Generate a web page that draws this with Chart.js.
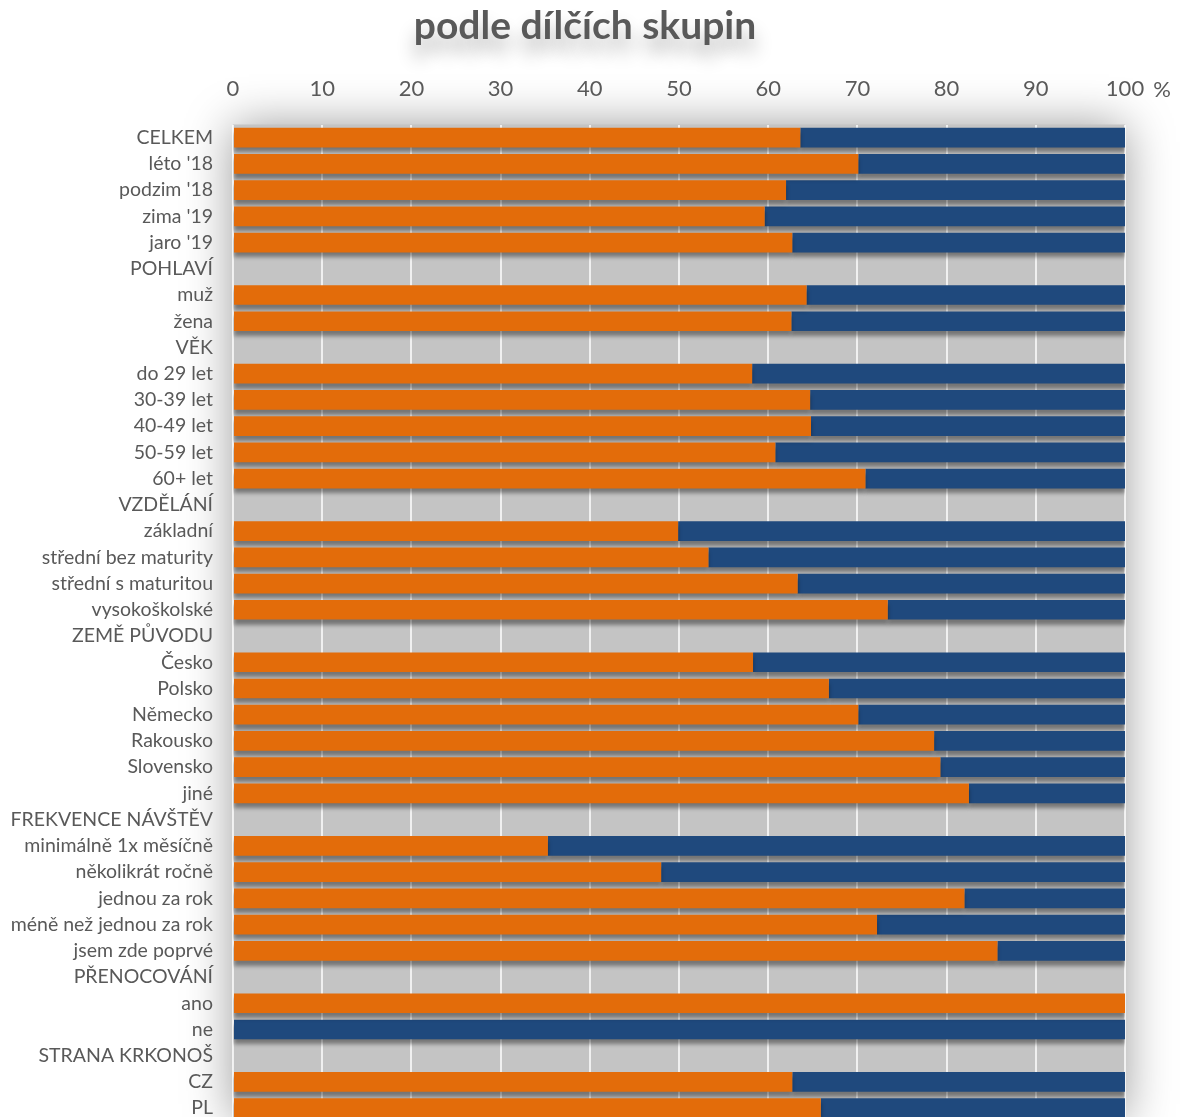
<!DOCTYPE html>
<html>
<head>
<meta charset="utf-8">
<script src="https://cdn.jsdelivr.net/npm/chart.js@4/dist/chart.umd.min.js"></script>
<style>
  html, body { margin: 0; padding: 0; background: #fff; overflow: hidden; }
  canvas { display: block; }
</style>
</head>
<body>
<canvas id="barChart" width="1182" height="1153"></canvas>
<script>
// categories (section headings have no bars)
var categories = [
  "CELKEM", "léto '18", "podzim '18", "zima '19", "jaro '19",
  "POHLAVÍ", "muž", "žena",
  "VĚK", "do 29 let", "30-39 let", "40-49 let", "50-59 let", "60+ let",
  "VZDĚLÁNÍ", "základní", "střední bez maturity", "střední s maturitou", "vysokoškolské",
  "ZEMĚ PŮVODU", "Česko", "Polsko", "Německo", "Rakousko", "Slovensko", "jiné",
  "FREKVENCE NÁVŠTĚV", "minimálně 1x měsíčně", "několikrát ročně", "jednou za rok", "méně než jednou za rok", "jsem zde poprvé",
  "PŘENOCOVÁNÍ", "ano", "ne",
  "STRANA KRKONOŠ", "CZ", "PL"
];

// orange part (%)
var orangeValues = [
  63.6, 70.1, 62.0, 59.6, 62.7,
  null, 64.3, 62.6,
  null, 58.2, 64.7, 64.8, 60.8, 70.9,
  null, 49.9, 53.3, 63.3, 73.4,
  null, 58.3, 66.8, 70.1, 78.6, 79.3, 82.5,
  null, 35.3, 48.0, 82.0, 72.2, 85.7,
  null, 100, 0,
  null, 62.7, 65.9
];

// blue part (%)
var blueValues = [
  36.4, 29.9, 38.0, 40.4, 37.3,
  null, 35.7, 37.4,
  null, 41.8, 35.3, 35.2, 39.2, 29.1,
  null, 50.1, 46.7, 36.7, 26.6,
  null, 41.7, 33.2, 29.9, 21.4, 20.7, 17.5,
  null, 64.7, 52.0, 18.0, 27.8, 14.3,
  null, 0, 100,
  null, 37.3, 34.1
];

var tickValues = [0, 10, 20, 30, 40, 50, 60, 70, 80, 90, 100];

var textColor = '#595959';
var fontName = "Lato, 'Open Sans', sans-serif";

// gray plot background with soft outer shadow, bar shadows, title and "%"
var decor = {
  id: 'decor',
  beforeDraw: function (chart) {
    var c = chart.ctx, a = chart.chartArea;
    c.save();
    c.shadowColor = 'rgba(0,0,0,0.4)';
    c.shadowBlur = 45;
    c.fillStyle = '#c4c4c4';
    c.fillRect(a.left, a.top, a.right - a.left, a.bottom - a.top);
    c.restore();

    c.save();
    c.font = "bold 39px " + fontName;
    c.fillStyle = textColor;
    c.textAlign = 'center';
    c.textBaseline = 'middle';
    c.shadowColor = 'rgba(0,0,0,0.3)';
    c.shadowBlur = 18;
    c.shadowOffsetY = 14;
    c.fillText('podle dílčích skupin', 585, 26);
    c.restore();

    c.save();
    c.font = "22px " + fontName;
    c.fillStyle = textColor;
    c.textAlign = 'center';
    c.textBaseline = 'middle';
    c.fillText('%', 1162, 90);
    c.restore();
  },
  beforeDatasetsDraw: function (chart) {
    var c = chart.ctx;
    c.save();
    c.shadowColor = 'rgba(0,0,0,0.4)';
    c.shadowBlur = 4;
    c.shadowOffsetY = 5;
  },
  afterDatasetsDraw: function (chart) {
    chart.ctx.restore();
  }
};

var ctx = document.getElementById('barChart').getContext('2d');
var barChart = new Chart(ctx, {
    type: 'bar',
    data: {
        labels: categories,
        datasets: [{
            label: 'orange',
            data: orangeValues,
            backgroundColor: '#e36c0a',
            borderWidth: 0
        }, {
            label: 'blue',
            data: blueValues,
            backgroundColor: '#1f497d',
            borderWidth: 0
        }]
    },
    plugins: [decor],
    options: {
        indexAxis: 'y',
        responsive: false,
        animation: false,
        layout: { padding: { top: 0, right: 57, left: 0, bottom: 0 } },
        plugins: {
            legend: { display: false },
            tooltip: { enabled: false }
        },
        datasets: {
            bar: { categoryPercentage: 1, barPercentage: 0.75 }
        },
        scales: {
            x: {
                position: 'top',
                stacked: true,
                min: 0,
                max: 100,
                afterBuildTicks: function (scale) {
                    scale.ticks = tickValues.map(function (v) { return { value: v }; });
                },
                afterFit: function (scale) { scale.height = 124.5; },
                grid: { color: 'rgba(255,255,255,0.75)', lineWidth: 2, drawTicks: false },
                border: { display: false },
                ticks: {
                    padding: 22,
                    maxRotation: 0,
                    color: textColor,
                    font: { family: fontName, size: 22 }
                }
            },
            y: {
                stacked: true,
                afterFit: function (scale) { scale.width = 233; },
                grid: { display: false, drawTicks: false },
                border: { display: false },
                ticks: {
                    padding: 20,
                    autoSkip: false,
                    color: textColor,
                    font: { family: fontName, size: 19.5 }
                }
            }
        }
    }
});
</script>
</body>
</html>
